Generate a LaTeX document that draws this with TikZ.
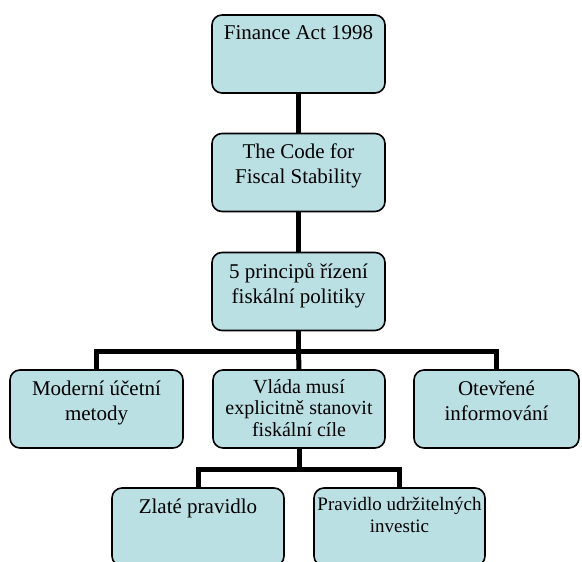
\documentclass[tikz,border=0pt]{standalone}
\usepackage{fontspec}
\setmainfont{Liberation Serif}
\definecolor{boxfill}{RGB}{187,224,227}
\begin{document}
\begin{tikzpicture}[x=1pt,y=-1pt,
  box/.style={draw=black, line width=1.6pt, fill=boxfill, rounded corners=10pt,
    minimum height=78pt, inner sep=0pt},
  txt/.style={anchor=north, align=center, inner sep=0pt, font=\fontsize{21pt}{25pt}\selectfont},
  conn/.style={draw=black, line width=5pt, line join=miter}
]
\useasboundingbox (0,0) rectangle (582,562);
\clip (0,0) rectangle (582,562);
% boxes
\node[box, minimum width=173pt] (b1) at (298.5,54) {};
\node[box, minimum width=173pt] (b2) at (298.5,172.5) {};
\node[box, minimum width=173pt] (b3) at (298.5,291.5) {};
\node[box, minimum width=173pt] (bA) at (96.5,409) {};
\node[box, minimum width=172pt] (bB) at (299,409) {};
\node[box, minimum width=165pt] (bC) at (496.5,409) {};
\node[box, minimum width=172pt] (bZ) at (198,527) {};
\node[box, minimum width=171pt] (bP) at (399.5,527) {};
% connectors
\coordinate (j1) at (298.5,351);
\coordinate (j2) at (299,469);
\draw[conn] (b1.south) -- (b2.north);
\draw[conn] (b2.south) -- (b3.north);
\draw[conn] (b3.south) -- (j1);
\draw[conn] (j1) -| (bA.north);
\draw[conn] (j1) -| (bC.north);
\draw[conn] (j1) -- (bB.north);
\draw[conn] (bB.south) -- (j2);
\draw[conn] (j2) -| (bZ.north);
\draw[conn] (j2) -| (bP.north);
% texts
\node[txt] (t1) at ([yshift=-11pt]b1.north) {Finance Act 1998};
\node[txt] (t2) at ([yshift=-11pt]b2.north) {The Code for\\Fiscal Stability};
\node[txt] (t3) at ([yshift=-11pt]b3.north) {5 principů řízení\\fiskální politiky};
\node[txt] (tA) at ([yshift=-11pt]bA.north) {Moderní účetní\\metody};
\node[txt, font=\fontsize{20pt}{21.5pt}\selectfont] (tB) at ([yshift=-10pt]bB.north) {Vláda musí\\explicitně stanovit\\fiskální cíle};
\node[txt] (tC) at ([yshift=-11pt]bC.north) {Otevřené\\informování};
\node[txt] (tZ) at ([yshift=-11pt]bZ.north) {Zlaté pravidlo};
\node[txt, font=\fontsize{19pt}{21.5pt}\selectfont] (tP) at ([yshift=-10pt]bP.north) {Pravidlo udržitelných\\investic};
\end{tikzpicture}
\end{document}
